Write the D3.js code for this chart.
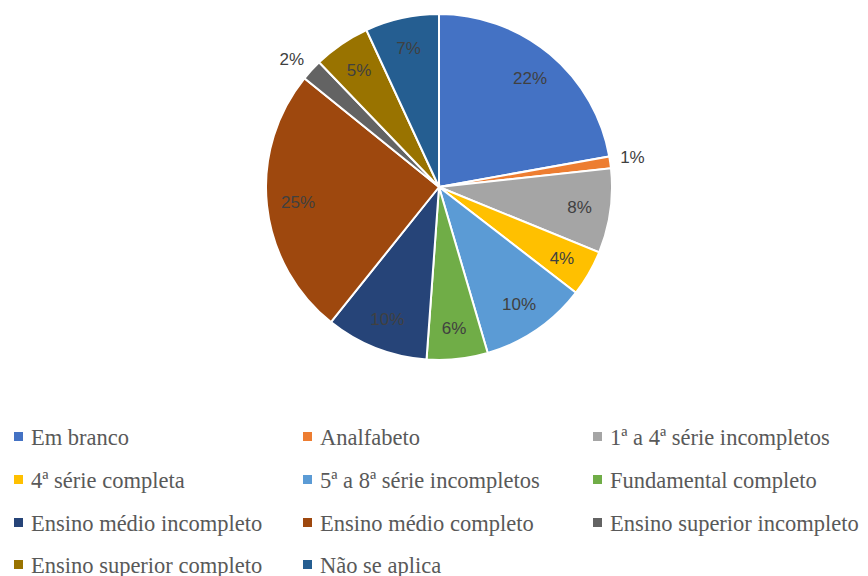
<!DOCTYPE html>
<html>
<head>
<meta charset="utf-8">
<script src="https://cdn.jsdelivr.net/npm/d3@7"></script>
<style>
  body { margin: 0; background: #fff; }
</style>
</head>
<body>
<div class="chart"></div>
<script>
var categories = ["Em branco", "Analfabeto", "1ª a 4ª série incompletos",
                  "4ª série completa", "5ª a 8ª série incompletos", "Fundamental completo",
                  "Ensino médio incompleto", "Ensino médio completo", "Ensino superior incompleto",
                  "Ensino superior completo", "Não se aplica"];
var values = [22.2, 1.1, 7.9, 4.3, 10.0, 5.7, 9.6, 25.1, 2.0, 5.3, 6.9];
var colors = ["#4472C4", "#ED7D31", "#A5A5A5", "#FFC000", "#5B9BD5", "#70AD47",
              "#264478", "#9E480E", "#636363", "#997300", "#255E91"];

var width = 868, height = 576;
var cx = 439, cy = 187, r = 173;

var svg = d3.select(".chart").append("svg")
            .attr("width", width)
            .attr("height", height);

var data = categories.map(function(c, i) { return {name: c, value: values[i], color: colors[i]}; });
var total = d3.sum(values);

var pie = d3.pie().sort(null).value(function(d) { return d.value; });
var arcs = pie(data);
var arc = d3.arc().innerRadius(0).outerRadius(r);

var g = svg.append("g").attr("transform", "translate(" + cx + "," + cy + ")");

g.selectAll("path")
 .data(arcs)
 .enter().append("path")
 .attr("d", arc)
 .attr("fill", function(d) { return d.data.color; })
 .attr("stroke", "#fff")
 .attr("stroke-width", 2);

// labels: inside for big slices, outside for tiny ones
g.selectAll("text.lbl")
 .data(arcs)
 .enter().append("text")
 .attr("class", "lbl")
 .each(function(d) {
   var mid = (d.startAngle + d.endAngle) / 2;
   var pct = Math.round(d.data.value / total * 100);
   var t = d3.select(this);
   var outside = pct < 3;
   var dist = outside ? r + 10 : r * 0.82;
   var x = Math.sin(mid) * dist, y = -Math.cos(mid) * dist;
   t.attr("x", x).attr("y", y)
    .attr("dy", outside ? "0.1em" : "0.35em")
    .attr("text-anchor", outside ? (x > 0 ? "start" : "end") : "middle")
    .text(pct + "%");
 })
 .attr("font-family", "'Liberation Sans', Arial, sans-serif")
 .attr("font-size", "17px")
 .attr("fill", "#404040");

// legend
var colX = [14, 303, 593];
var rowY = [437, 480, 523, 565];

var legend = svg.append("g");
data.forEach(function(d, i) {
  var x = colX[i % 3], y = rowY[Math.floor(i / 3)];
  legend.append("rect")
        .attr("x", x)
        .attr("y", y - 5)
        .attr("width", 9)
        .attr("height", 9)
        .style("fill", d.color);
  legend.append("text")
        .attr("x", x + 17)
        .attr("y", y + 8)
        .attr("fill", "#595959")
        .attr("font-family", "'Liberation Serif', 'Times New Roman', serif")
        .attr("font-size", "22.5px")
        .text(d.name);
});
</script>
</body>
</html>
